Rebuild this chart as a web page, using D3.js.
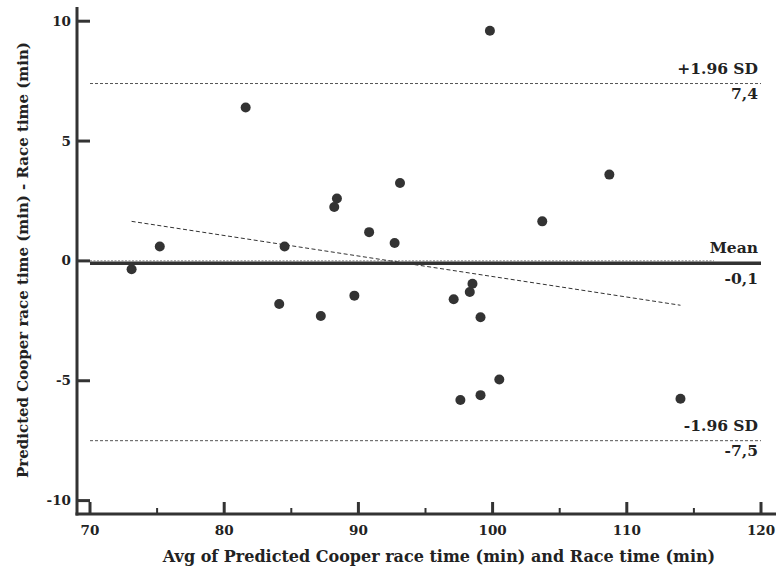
<!DOCTYPE html>
<html>
<head>
<meta charset="utf-8">
<script src="https://cdn.jsdelivr.net/npm/d3@7"></script>
<style>
  html, body { margin: 0; padding: 0; background: #fff; }
</style>
</head>
<body>
<svg id="chart" width="777" height="574" font-family="'DejaVu Serif', serif" font-weight="bold"></svg>
<script>
// Bland-Altman: mean of the two methods vs. their difference
const avgTime = [73.1, 75.2, 81.6, 84.1, 84.5, 87.2, 88.2, 88.4, 89.7, 90.8, 92.7, 93.1,
                 97.1, 97.6, 98.3, 98.5, 99.1, 99.1, 99.8, 100.5, 103.7, 108.7, 114.0];
const diffTime = [-0.35, 0.6, 6.4, -1.8, 0.6, -2.3, 2.25, 2.6, -1.45, 1.2, 0.75, 3.25,
                  -1.6, -5.8, -1.3, -0.95, -2.35, -5.6, 9.6, -4.95, 1.65, 3.6, -5.75];

const meanDiff = -0.1;
const upperLoA = 7.4;
const lowerLoA = -7.5;
const trendX = [73.1, 114.0];
const trendY = [1.65, -1.85];

const xTicks = [70, 80, 90, 100, 110, 120];
const xMinorTicks = [75, 85, 95, 105, 115];
const yTicks = [-10, -5, 0, 5, 10];

const xTitle = "Avg of Predicted Cooper race time (min) and Race time  (min)";
const yTitle = "Predicted Cooper race time (min) - Race time  (min)";

const svg = d3.select("#chart");
const ink = "#333";
const textInk = "#222";

const x = d3.scaleLinear().domain([70, 120]).range([90, 761]);
const y = d3.scaleLinear().domain([-10, 10]).range([500.6, 21.2]);

const axisX = 77, axisY = 514;

// reference lines (limits of agreement)
[upperLoA, lowerLoA].forEach(v => {
  svg.append("line")
    .attr("x1", x(70)).attr("x2", x(120))
    .attr("y1", y(v)).attr("y2", y(v))
    .attr("stroke", "#555").attr("stroke-width", 1)
    .attr("stroke-dasharray", "3,2");
});

// mean difference
svg.append("line")
  .attr("x1", x(70)).attr("x2", x(120))
  .attr("y1", y(meanDiff)).attr("y2", y(meanDiff))
  .attr("stroke", ink).attr("stroke-width", 3.5);

// zero reference
svg.append("line")
  .attr("x1", x(70)).attr("x2", x(116.5))
  .attr("y1", y(0)).attr("y2", y(0))
  .attr("stroke", "#777").attr("stroke-width", 1)
  .attr("stroke-dasharray", "2,1.5");

// regression trend of the differences
svg.append("line")
  .attr("x1", x(trendX[0])).attr("x2", x(trendX[1]))
  .attr("y1", y(trendY[0])).attr("y2", y(trendY[1]))
  .attr("stroke", ink).attr("stroke-width", 1)
  .attr("stroke-dasharray", "4,2.5");

// points
svg.append("g").selectAll("circle")
  .data(avgTime.map((d, i) => [d, diffTime[i]]))
  .join("circle")
  .attr("cx", d => x(d[0]))
  .attr("cy", d => y(d[1]))
  .attr("r", 5)
  .attr("fill", ink);

// axes
svg.append("line")
  .attr("x1", axisX).attr("x2", axisX).attr("y1", 7).attr("y2", axisY + 1.5)
  .attr("stroke", ink).attr("stroke-width", 3);
svg.append("line")
  .attr("x1", axisX - 1.5).attr("x2", 776).attr("y1", axisY).attr("y2", axisY)
  .attr("stroke", ink).attr("stroke-width", 3);

// y ticks point inward
const gy = svg.append("g");
gy.selectAll("line").data(yTicks).join("line")
  .attr("x1", axisX).attr("x2", x(70))
  .attr("y1", d => y(d)).attr("y2", d => y(d))
  .attr("stroke", ink).attr("stroke-width", 3);
gy.selectAll("text").data(yTicks).join("text")
  .attr("x", 71).attr("y", d => y(d))
  .attr("dy", "0.34em")
  .attr("text-anchor", "end")
  .attr("font-size", 13.5)
  .attr("fill", textInk)
  .text(d => d);

// x ticks point inward
const gx = svg.append("g");
gx.selectAll("line.major").data(xTicks).join("line")
  .attr("class", "major")
  .attr("x1", d => x(d)).attr("x2", d => x(d))
  .attr("y1", axisY).attr("y2", axisY - 12)
  .attr("stroke", ink).attr("stroke-width", 3);
gx.selectAll("line.minor").data(xMinorTicks).join("line")
  .attr("class", "minor")
  .attr("x1", d => x(d)).attr("x2", d => x(d))
  .attr("y1", axisY).attr("y2", axisY - 6)
  .attr("stroke", ink).attr("stroke-width", 2);
gx.selectAll("text").data(xTicks).join("text")
  .attr("x", d => x(d)).attr("y", 535)
  .attr("text-anchor", "middle")
  .attr("font-size", 13.5)
  .attr("fill", textInk)
  .text(d => d);

// axis titles
svg.append("text")
  .attr("x", 439).attr("y", 562)
  .attr("text-anchor", "middle")
  .attr("font-size", 16)
  .attr("fill", textInk)
  .text(xTitle);
svg.append("text")
  .attr("transform", "translate(28,260) rotate(-90)")
  .attr("text-anchor", "middle")
  .attr("font-size", 15)
  .attr("fill", textInk)
  .text(yTitle);

// line annotations
const fmt = v => String(v).replace(".", ",");
const labels = [
  { t: "+1.96 SD", v: upperLoA, dy: -10 },
  { t: fmt(upperLoA), v: upperLoA, dy: 15 },
  { t: "Mean", v: meanDiff, dy: -10 },
  { t: fmt(meanDiff), v: meanDiff, dy: 21 },
  { t: "-1.96 SD", v: lowerLoA, dy: -10 },
  { t: fmt(lowerLoA), v: lowerLoA, dy: 15 }
];
svg.append("g").selectAll("text").data(labels).join("text")
  .attr("x", 758)
  .attr("y", d => y(d.v) + d.dy)
  .attr("text-anchor", "end")
  .attr("font-size", 15.5)
  .attr("fill", textInk)
  .text(d => d.t);
</script>
</body>
</html>
